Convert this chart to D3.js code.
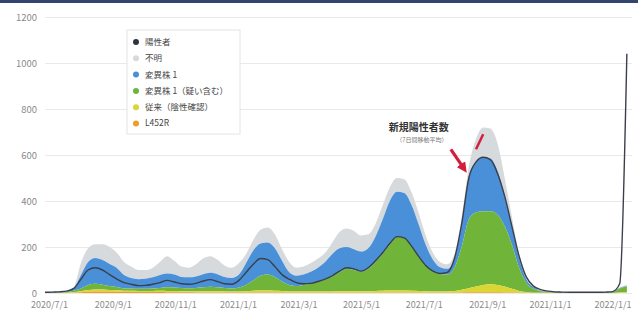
<!DOCTYPE html>
<html>
<head>
<meta charset="utf-8">
<script src="https://cdn.jsdelivr.net/npm/d3@7"></script>
<style>
  body { margin: 0; background: #fff; }
  svg text { font-family: 'Noto Sans CJK JP', 'Liberation Sans', sans-serif; }
</style>
</head>
<body>
<div id="chart"></div>
<script>
// weekly points starting from this date
const startDate = new Date(2020, 5, 27);
const xTickLabels = ['2020/7/1', '2020/9/1', '2020/11/1', '2021/1/1', '2021/3/1', '2021/5/1',
  '2021/7/1', '2021/9/1', '2021/11/1', '2022/1/1'];
const yTicks = [0, 200, 400, 600, 800, 1000, 1200];

const legendNames = ['陽性者', '不明', '変異株 1', '変異株 1（疑い含む）', '従来（陰性確認）', 'L452R'];
const legendColors = ['#2e3440', '#d6dadc', '#4a90d9', '#70b43a', '#dcd634', '#ee9d2c'];

// stacked layers (bottom -> top)
const l452r = [0,0,0,0,1, 3,5,6,6,5,5,4, 4,4,4,4,4,3,3,3,3,2,2,2,2,2,2,2, 2,2,2,2,2,2,1,1,
  1,1,1,1,1,1,1,1,1,1,1,1,1,1,1,1,1,1,1,1,1, 1,2,3,3,3,3,3,2,2,1,1,0, 0,0,0,0,0,0,0,0,0,0,0,0,0];
const juurai = [0,0,1,1,2, 5,8,9,9,8,7,6, 6,5,5,5,6,6,6,5,5,5,6,6,6,5,5,5, 6,8,9,9,8,7,6,5,
  5,5,5,6,6,7,7,7,7,7,8,9,10,10,10,9,8,7,6,6,6, 8,12,18,25,32,35,32,26,16,8,3,1, 1,1,0,0,0,0,0,0,0,0,0,2,3];
const henniGi = [1,2,2,4,7, 12,22,25,21,17,14,10, 10,9,10,11,12,16,15,14,13,15,17,19,17,15,13,17, 27,45,64,69,60,41,28,24,
  29,34,42,51,65,82,97,92,84,97,126,160,199,234,229,195,151,112,88,75,73,
  101,186,299,322,320,317,305,262,192,101,41,17, 7,4,3,3,3,3,3,3,3,3,3,18,25];
const henni = [1,1,1,3,10, 58,100,112,107,96,83,58, 45,42,43,48,56,60,56,48,47,50,57,61,57,48,45,56, 95,130,140,140,125,90,55,45,
  45,52,62,77,98,105,95,90,88,90,110,150,190,195,195,180,140,90,50,30,25,
  40,100,190,220,235,230,190,130,80,40,15,7, 2,1,1,1,1,1,1,1,1,1,1,2,2];
const fumei = [1,1,2,2,5, 52,60,60,69,74,66,57, 50,40,38,42,57,75,60,45,42,53,68,72,63,50,45,50, 40,45,60,65,60,50,45,35,
  35,38,40,40,50,70,80,80,70,60,55,60,60,60,60,55,50,40,30,23,20,
  20,30,40,100,130,130,120,80,40,20,10,5, 2,2,1,0,0,0,0,0,0,0,1,3,5];

// line series
const positives = [3,4,5,8,20, 60,100,110,100,80,60,45, 38,32,33,38,45,55,48,40,38,42,52,58,50,40,38,55,
  90,125,150,145,115,80,60,45,
  40,42,50,60,75,95,110,105,95,110,140,175,215,245,240,205,160,120,95,85,90,
  150,300,500,570,590,580,520,420,290,160,70,30, 15,8,5,4,3,3,3,3,3,4,6,40,1040];
const highlight = {start: 60, values: [625, 690]};
const arrowIndex = 59;
const arrowValue = 520;

const width = 638, height = 315;
const margin = { top: 17, right: 6, bottom: 22, left: 45 };

const svg = d3.select('#chart').append('svg')
  .attr('width', width)
  .attr('height', height);

// top header strip
svg.append('rect').attr('x', 0).attr('y', 0).attr('width', width).attr('height', 3).attr('fill', '#33456d');

const dates = positives.map((d, i) => d3.timeDay.offset(startDate, i * 7));
const rows = dates.map((d, i) => ({
  date: d, l452r: l452r[i], juurai: juurai[i], henniGi: henniGi[i], henni: henni[i], fumei: fumei[i]
}));

const x = d3.scaleTime()
  .domain([startDate, new Date(2022, 0, 20)])
  .range([margin.left, width - margin.right]);
const y = d3.scaleLinear().domain([0, 1200]).range([height - margin.bottom, margin.top]);

/* grid + y labels */
const yAxis = svg.append('g').attr('transform', 'translate(' + margin.left + ',0)')
  .call(d3.axisLeft(y).tickValues(yTicks).tickFormat(d3.format('d'))
    .tickSize(-(width - margin.left - margin.right)).tickPadding(8));
yAxis.select('.domain').remove();
yAxis.selectAll('line').attr('stroke', '#e9e9e9');
yAxis.selectAll('text').attr('fill', '#8a8a8a').style('font-size', '9.5px');

/* x labels */
const xTickDates = xTickLabels.map(s => { const p = s.split('/'); return new Date(+p[0], +p[1] - 1, +p[2]); });
const xAxis = svg.append('g').attr('transform', 'translate(0,' + (height - margin.bottom) + ')')
  .call(d3.axisBottom(x).tickValues(xTickDates).tickSize(0).tickPadding(9).tickFormat((d, i) => xTickLabels[i]));
xAxis.select('.domain').remove();
xAxis.selectAll('text').attr('fill', '#8a8a8a').style('font-size', '9px');

/* stacked areas */
const keys = ['l452r', 'juurai', 'henniGi', 'henni', 'fumei'];
const keyColors = { l452r: legendColors[5], juurai: legendColors[4], henniGi: legendColors[3], henni: legendColors[2], fumei: legendColors[1] };
const stacked = d3.stack().keys(keys)(rows);
const area = d3.area()
  .curve(d3.curveMonotoneX)
  .x(d => x(d.data.date))
  .y0(d => y(d[0]))
  .y1(d => y(d[1]));

svg.append('g').selectAll('path')
  .data(stacked.slice().reverse())
  .enter()
  .append('path')
  .attr('fill', d => keyColors[d.key])
  .attr('d', d => area(d));

/* positives line */
const line = d3.line().curve(d3.curveMonotoneX).x((d, i) => x(dates[i])).y(d => y(d));
svg.append('path')
  .datum(positives)
  .attr('fill', 'none')
  .attr('stroke', '#3a3f4a')
  .attr('stroke-width', 1.4)
  .attr('d', line);

/* red highlight on the peak */
const redLine = d3.line()
  .x((d, i) => x(dates[highlight.start + i])).y(d => y(d));
svg.append('path')
  .datum(highlight.values)
  .attr('fill', 'none')
  .attr('stroke', '#d21f3c')
  .attr('stroke-width', 2.5)
  .attr('d', redLine);

/* annotation arrow */
svg.append('defs').append('marker')
  .attr('id', 'arr').attr('viewBox', '0 0 10 10').attr('refX', 5).attr('refY', 5)
  .attr('markerWidth', 3.2).attr('markerHeight', 3.2).attr('orient', 'auto')
  .append('path').attr('d', 'M0,0L10,5L0,10z').attr('fill', '#d21f3c');
const ax = x(dates[arrowIndex]) - 2, ay = y(arrowValue);
svg.append('line')
  .attr('x1', ax - 16).attr('y1', ay - 24)
  .attr('x2', ax - 3).attr('y2', ay - 5)
  .attr('stroke', '#d21f3c').attr('stroke-width', 3.2)
  .attr('marker-end', 'url(#arr)');
svg.append('text')
  .attr('x', ax - 48).attr('y', ay - 42)
  .attr('text-anchor', 'middle')
  .attr('fill', '#333')
  .style('font-size', '10px')
  .style('font-weight', 'bold')
  .text('新規陽性者数');
svg.append('text')
  .attr('x', ax - 45).attr('y', ay - 31)
  .attr('text-anchor', 'middle')
  .attr('fill', '#777')
  .style('font-size', '6px')
  .text('（7日間移動平均）');

/* legend */
const lg = svg.append('g').attr('transform', 'translate(127,30)');
lg.append('rect').attr('width', 113).attr('height', 104)
  .attr('fill', '#fff').attr('stroke', '#e4e4e4').attr('stroke-width', 1);
const item = lg.selectAll('g.item').data(legendNames).enter().append('g')
  .attr('class', 'item')
  .attr('transform', (d, i) => 'translate(9,' + (12 + i * 16.3) + ')');
item.append('circle').attr('r', 3).attr('fill', (d, i) => legendColors[i]);
item.append('text')
  .attr('x', 9).attr('dy', '0.35em')
  .attr('fill', '#444')
  .style('font-size', '8.5px')
  .text(d => d);
</script>
</body>
</html>
